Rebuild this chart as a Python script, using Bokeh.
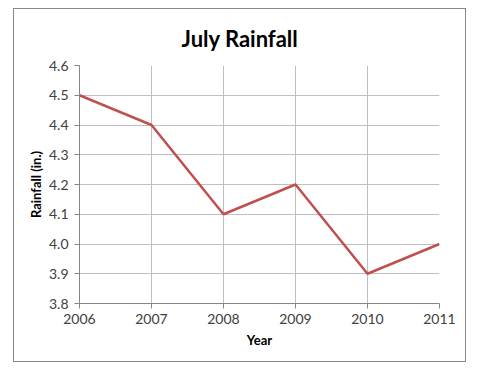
from bokeh.plotting import figure
from bokeh.models import FixedTicker, NumeralTickFormatter, Range1d
from bokeh.embed import file_html
from bokeh.resources import INLINE

years = [2006, 2007, 2008, 2009, 2010, 2011]
rainfall = [4.5, 4.4, 4.1, 4.2, 3.9, 4.0]
y_ticks = [3.8, 3.9, 4.0, 4.1, 4.2, 4.3, 4.4, 4.5, 4.6]

FONT = "Lato"

p = figure(width=453, height=354, output_backend="svg", toolbar_location=None,
           x_range=Range1d(2006, 2011), y_range=Range1d(3.8, 4.6),
           min_border_left=65, min_border_right=28, min_border_top=56, min_border_bottom=60,
           title="July Rainfall")
p.margin = (8, 0, 0, 13)
p.styles = {"border": "1px solid #878787"}
p.outline_line_color = None
p.background_fill_color = "white"
p.border_fill_color = "white"

p.title.align = "left"
p.title.offset = 102
p.title.standoff = 27
p.title.text_font = FONT
p.title.text_font_size = "22px"
p.title.text_font_style = "bold"
p.title.text_color = "black"

p.line(years, rainfall, line_color="#C0504D", line_width=2.5)

p.xaxis.ticker = FixedTicker(ticks=years)
p.yaxis.ticker = FixedTicker(ticks=y_ticks)
p.yaxis.formatter = NumeralTickFormatter(format="0.0")
p.xaxis.axis_label = "Year"
p.yaxis.axis_label = "Rainfall (in.)"
for ax in (p.xaxis, p.yaxis):
    ax.axis_label_text_font = FONT
    ax.axis_label_text_font_style = "bold"
    ax.axis_label_text_font_size = "13px"
    ax.axis_label_text_color = "black"
    ax.major_label_text_font = FONT
    ax.major_label_text_font_size = "14px"
    ax.major_label_text_color = "#404040"
    ax.axis_line_color = "#868686"
    ax.major_tick_line_color = "#868686"
    ax.major_tick_out = 5
    ax.major_tick_in = 0
    ax.minor_tick_line_color = None
p.xaxis.major_label_standoff = 5
p.yaxis.major_label_standoff = 6
p.xaxis.axis_label_standoff = 5
p.yaxis.axis_label_standoff = 2
p.grid.grid_line_color = "#BEBEBE"
p.grid.grid_line_width = 1

open("out.html", "w").write(file_html(p, INLINE))
